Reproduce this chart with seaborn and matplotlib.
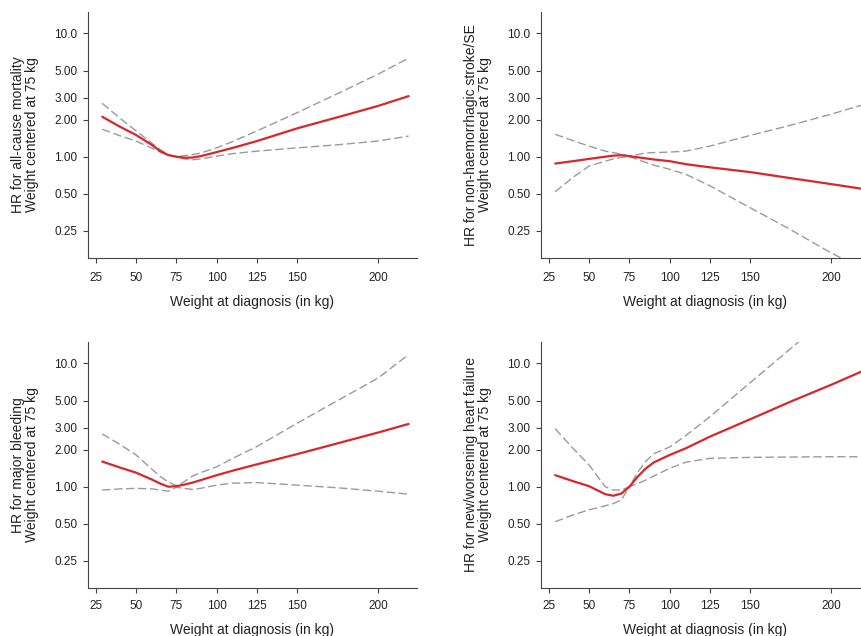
import numpy as np
import pandas as pd
import matplotlib
matplotlib.use("Agg")
import matplotlib.pyplot as plt
import seaborn as sns

WEIGHT = [29, 40, 50, 60, 65, 70, 75, 80, 85, 90, 100, 110, 125, 150, 175, 200, 219]

# all-cause mortality
MORT_HR = [2.11, 1.75, 1.50, 1.24, 1.11, 1.03, 1.00, 0.98, 0.985, 1.01, 1.09, 1.18, 1.34, 1.70, 2.09, 2.58, 3.10]
MORT_HI = [2.71, 2.05, 1.62, 1.28, 1.14, 1.04, 1.00, 1.02, 1.04, 1.07, 1.18, 1.33, 1.62, 2.28, 3.25, 4.67, 6.30]
MORT_LO = [1.67, 1.48, 1.34, 1.17, 1.09, 1.03, 1.00, 0.96, 0.945, 0.96, 1.01, 1.06, 1.11, 1.18, 1.25, 1.34, 1.47]

# non-haemorrhagic stroke / SE
STROKE_HR = [0.88, 0.92, 0.96, 1.00, 1.02, 1.03, 1.01, 0.99, 0.97, 0.95, 0.92, 0.87, 0.82, 0.75, 0.67, 0.60, 0.55]
STROKE_HI = [1.52, 1.35, 1.22, 1.11, 1.08, 1.05, 1.01, 1.04, 1.07, 1.08, 1.09, 1.11, 1.22, 1.49, 1.80, 2.21, 2.62]
STROKE_LO = [0.52, 0.68, 0.84, 0.92, 0.96, 0.99, 1.00, 0.95, 0.90, 0.855, 0.79, 0.72, 0.58, 0.385, 0.256, 0.166, 0.125]

# major bleeding
BLEED_HR = [1.60, 1.43, 1.30, 1.14, 1.06, 1.00, 1.01, 1.04, 1.08, 1.13, 1.24, 1.35, 1.52, 1.84, 2.25, 2.75, 3.23]
BLEED_HI = [2.68, 2.20, 1.81, 1.38, 1.21, 1.09, 1.02, 1.10, 1.22, 1.30, 1.45, 1.70, 2.12, 3.28, 5.00, 7.60, 11.8]
BLEED_LO = [0.94, 0.96, 0.97, 0.96, 0.94, 0.92, 0.99, 0.97, 0.95, 0.97, 1.03, 1.07, 1.08, 1.03, 0.98, 0.92, 0.87]

# new / worsening heart failure
HF_HR = [1.24, 1.11, 1.01, 0.87, 0.845, 0.88, 1.00, 1.20, 1.40, 1.57, 1.81, 2.05, 2.55, 3.53, 4.90, 6.70, 8.60]
HF_HI = [2.95, 2.05, 1.50, 1.00, 0.94, 0.94, 1.00, 1.30, 1.60, 1.85, 2.10, 2.60, 3.70, 7.00, 13.2, 25.0, 40.0]
HF_LO = [0.52, 0.59, 0.65, 0.70, 0.73, 0.78, 1.00, 1.06, 1.13, 1.22, 1.41, 1.58, 1.70, 1.73, 1.74, 1.75, 1.75]

YLABELS = ["HR for all-cause mortality\nWeight centered at 75 kg",
           "HR for non-haemorrhagic stroke/SE\nWeight centered at 75 kg",
           "HR for major bleeding\nWeight centered at 75 kg",
           "HR for new/worsening heart failure\nWeight centered at 75 kg"]

XTICKS = [25, 50, 75, 100, 125, 150, 200]
YTICKS = [0.25, 0.5, 1, 2, 3, 5, 10]
YTICKLABELS = ["0.25", "0.50", "1.00", "2.00", "3.00", "5.00", "10.0"]

RED = "#d8262b"
GREY = "#9a9a9a"
TXT = "#222222"

sns.set_theme(style="ticks")
plt.rcParams["font.family"] = ["Liberation Sans", "DejaVu Sans"]

fig = plt.figure(figsize=(8.61, 6.36), dpi=100)
W, H = 861, 636
# axes boxes in pixels: left, top, x tick pad, x label pad
boxes = [(87.7, 11.7, 6.5, 8), (540.7, 11.7, 6.5, 8),
         (87.7, 341.7, 4.8, 7.8), (540.7, 341.7, 4.8, 7.8)]
aw, ah = 329, 246.6

series = [(MORT_HR, MORT_HI, MORT_LO), (STROKE_HR, STROKE_HI, STROKE_LO),
          (BLEED_HR, BLEED_HI, BLEED_LO), (HF_HR, HF_HI, HF_LO)]

for (left, top, xpad, lpad), (hr, hi, lo), ylab in zip(boxes, series, YLABELS):
    ax = fig.add_axes([left / W, 1 - (top + ah) / H, aw / W, ah / H])
    df = pd.DataFrame({"weight": WEIGHT, "hr": hr, "hi": hi, "lo": lo})
    for col in ["hi", "lo"]:
        sns.lineplot(data=df, x="weight", y=col, ax=ax, color=GREY, lw=1.0,
                     linestyle=(0, (6, 2.6)), estimator=None, sort=False)
    sns.lineplot(data=df, x="weight", y="hr", ax=ax, color=RED, lw=1.6,
                 estimator=None, sort=False)

    ax.set_yscale("log")
    ax.set_xlim(20, 224)
    ax.set_ylim(0.15, 15)
    ax.set_yticks(YTICKS)
    ax.set_yticklabels(YTICKLABELS)
    ax.yaxis.set_minor_locator(matplotlib.ticker.NullLocator())
    ax.set_xticks(XTICKS)
    ax.set_xticklabels([str(t) for t in XTICKS])

    ax.set_xlabel("Weight at diagnosis (in kg)", fontsize=10, color=TXT, labelpad=lpad)
    ax.set_ylabel(ylab, fontsize=10, color=TXT, linespacing=1.0)
    ax.yaxis.set_label_coords(-0.148, 0.5)

    sns.despine(ax=ax)
    for s in ["left", "bottom"]:
        ax.spines[s].set_color("#444444")
        ax.spines[s].set_linewidth(0.8)
    ax.tick_params(axis="both", labelsize=8.5, length=3.6, width=0.8,
                   color="#444444", labelcolor=TXT)
    ax.tick_params(axis="x", pad=xpad)
    ax.tick_params(axis="y", pad=3.9)

fig.savefig("out.png", dpi=100)
